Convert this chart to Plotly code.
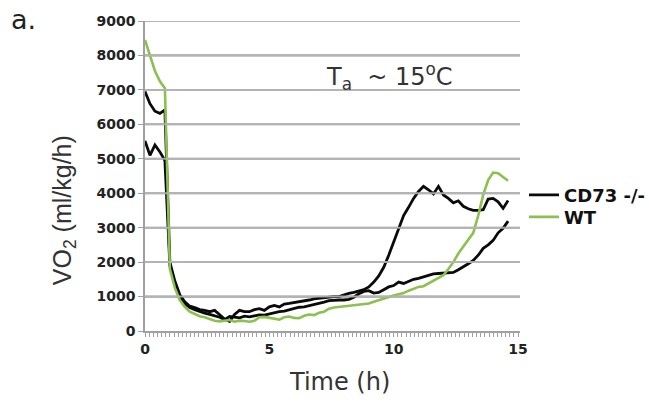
import plotly.graph_objects as go

time_h = [0.0, 0.2, 0.4, 0.6, 0.8, 1.0, 1.2, 1.4, 1.6, 1.8,
          2.0, 2.2, 2.4, 2.6, 2.8, 3.0, 3.2, 3.4, 3.6, 3.8,
          4.0, 4.2, 4.4, 4.6, 4.8, 5.0, 5.2, 5.4, 5.6, 5.8,
          6.0, 6.2, 6.4, 6.6, 6.8, 7.0, 7.2, 7.4, 7.6, 7.8,
          8.0, 8.2, 8.4, 8.6, 8.8, 9.0, 9.2, 9.4, 9.6, 9.8,
          10.0, 10.2, 10.4, 10.6, 10.8, 11.0, 11.2, 11.4, 11.6, 11.8,
          12.0, 12.2, 12.4, 12.6, 12.8, 13.0, 13.2, 13.4, 13.6, 13.8,
          14.0, 14.2, 14.4, 14.6]

cd73_a = [6950, 6600, 6380, 6320, 6420, 2000, 1450, 1050, 850, 720,
          680, 620, 600, 560, 600, 480, 350, 280, 480, 600,
          560, 560, 620, 650, 600, 700, 740, 700, 780, 800,
          820, 850, 880, 900, 930, 950, 980, 990, 1000, 1000,
          1050, 1090, 1120, 1150, 1200, 1280, 1420, 1600, 1850, 2200,
          2600, 3010, 3350, 3590, 3850, 4050, 4200, 4100, 3980, 4200,
          3950, 3850, 3720, 3780, 3620, 3550, 3500, 3500, 3520, 3830,
          3850, 3750, 3560, 3790]

cd73_b = [5520, 5100, 5400, 5200, 4950, 1900, 1350, 1000, 800, 680,
          620, 560, 520, 480, 450, 400, 330, 420, 400, 380,
          430, 410, 440, 470, 460, 500, 530, 560, 580, 620,
          660, 690, 700, 730, 760, 800, 840, 880, 900, 900,
          900, 920, 980, 1080, 1150, 1170, 1100, 1120, 1200, 1280,
          1320, 1420, 1380, 1450, 1500, 1530, 1570, 1620, 1660, 1670,
          1680, 1690, 1700, 1780, 1860, 1950, 2050, 2200, 2400, 2500,
          2630, 2850, 2980, 3190]

wt = [8450, 8000, 7550, 7250, 7050, 1800, 1250, 900, 700, 560,
      500, 430, 400, 340, 300, 280, 290, 320, 270, 300,
      290, 270, 300, 400, 410, 390, 350, 330, 400, 420,
      380, 370, 440, 480, 460, 530, 560, 650, 680, 700,
      700, 730, 750, 770, 800, 800, 850, 900, 950, 1000,
      1030, 1070, 1100, 1170, 1230, 1280, 1300, 1380, 1450, 1530,
      1620, 1800, 2000, 2250, 2450, 2650, 2850, 3350, 3950, 4380,
      4600, 4580, 4480, 4360]

x_labels = [0, 5, 10, 15]
y_ticks = [0, 1000, 2000, 3000, 4000, 5000, 6000, 7000, 8000, 9000]
ticks_per_hour = 6
x_max = 15.08

# small tick marks along the time axis, labels on the main ticks only
x_minor_pos = [i / ticks_per_hour for i in range(0, 15 * ticks_per_hour + 1)]

BLACK = "#0a0a0a"
GREEN = "#8cc04f"
GRID = "#b4b4b4"
AXIS = "#a0a0a0"
FONT = "DejaVu Sans"

fig = go.Figure()

# horizontal gridlines at each y tick, drawn as a background line trace
grid_x, grid_y = [], []
for yv in y_ticks[1:]:
    grid_x += [0.0, x_max, None]
    grid_y += [yv, yv, None]
fig.add_trace(go.Scatter(x=grid_x, y=grid_y, mode="lines", showlegend=False,
                         hoverinfo="skip", line=dict(color=GRID, width=2)))

fig.add_trace(go.Scatter(x=time_h, y=cd73_a, mode="lines", name="CD73 -/-",
                         legendgroup="cd73", legend="legend",
                         line=dict(color=BLACK, width=2.8)))
fig.add_trace(go.Scatter(x=time_h, y=cd73_b, mode="lines", name="CD73 -/-",
                         legendgroup="cd73", showlegend=False,
                         line=dict(color=BLACK, width=2.8)))
fig.add_trace(go.Scatter(x=time_h, y=wt, mode="lines", name="WT",
                         legend="legend2",
                         line=dict(color=GREEN, width=2.6)))

L, R, T, B = 145, 129, 20.5, 73
W, H = 649, 404
pw, ph = W - L - R, H - T - B


def px(xp):
    return (xp - L) / pw


def py(yp):
    return (H - B - yp) / ph


legend_font = dict(family=FONT, size=18, color="#111111", weight="bold")
legend_common = dict(xanchor="left", yanchor="middle", font=legend_font,
                     bgcolor="rgba(0,0,0,0)", borderwidth=0, itemclick=False,
                     itemdoubleclick=False)

fig.update_layout(
    width=W, height=H,
    margin=dict(l=L, r=R, t=T, b=B, pad=0, autoexpand=False),
    paper_bgcolor="white", plot_bgcolor="white",
    font=dict(family=FONT, color="#222222"),
    showlegend=True,
    legend=dict(x=px(524), y=py(195), **legend_common),
    legend2=dict(x=px(524), y=py(217), **legend_common),
    xaxis=dict(range=[0, x_max], tickmode="array", tickvals=x_labels,
               ticktext=[str(v) for v in x_labels],
               showgrid=False, zeroline=False, showline=True, linecolor=AXIS,
               linewidth=1.5, ticks="outside", ticklen=4, tickcolor=AXIS,
               tickwidth=1,
               tickfont=dict(family=FONT, size=14, color="#222222", weight="bold"),
               minor=dict(tickmode="array", tickvals=x_minor_pos, ticks="outside",
                          ticklen=4, tickcolor=AXIS, tickwidth=1, showgrid=False)),
    yaxis=dict(range=[0, 9000], tickmode="array", tickvals=y_ticks,
               showgrid=True, gridcolor=GRID, gridwidth=2, zeroline=False,
               showline=True, linecolor=AXIS, linewidth=1.5, ticks="outside",
               ticklen=5, tickcolor=AXIS,
               tickfont=dict(family=FONT, size=14, color="#222222", weight="bold")),
    annotations=[
        dict(text="a.", x=px(9), y=py(19), xref="paper", yref="paper",
             xanchor="left", yanchor="middle", showarrow=False,
             font=dict(family=FONT, size=27, color="#222222")),
        dict(text="T<sub>a</sub>  ~ 15<sup>o</sup>C", x=px(324), y=py(76),
             xref="paper", yref="paper", xanchor="left", yanchor="middle",
             showarrow=False, font=dict(family=FONT, size=24, color="#333333")),
        dict(text="Time (h)", x=px(339), y=py(382), xref="paper", yref="paper",
             xanchor="center", yanchor="middle", showarrow=False,
             font=dict(family=FONT, size=24, color="#333333")),
        dict(text="VO<sub>2</sub> (ml/kg/h)", x=px(64), y=py(210), xref="paper",
             yref="paper", xanchor="center", yanchor="middle", textangle=-90,
             showarrow=False, font=dict(family="Liberation Sans", size=25, color="#333333")),
    ],
)

# gridline overlay as shapes as well, so the grid is visible in every renderer
for yv in y_ticks[1:]:
    fig.add_shape(type="line", xref="paper", yref="y", x0=0, x1=1, y0=yv, y1=yv,
                  line=dict(color=GRID, width=2), layer="above", opacity=0.9)

fig.write_html("out.html")
